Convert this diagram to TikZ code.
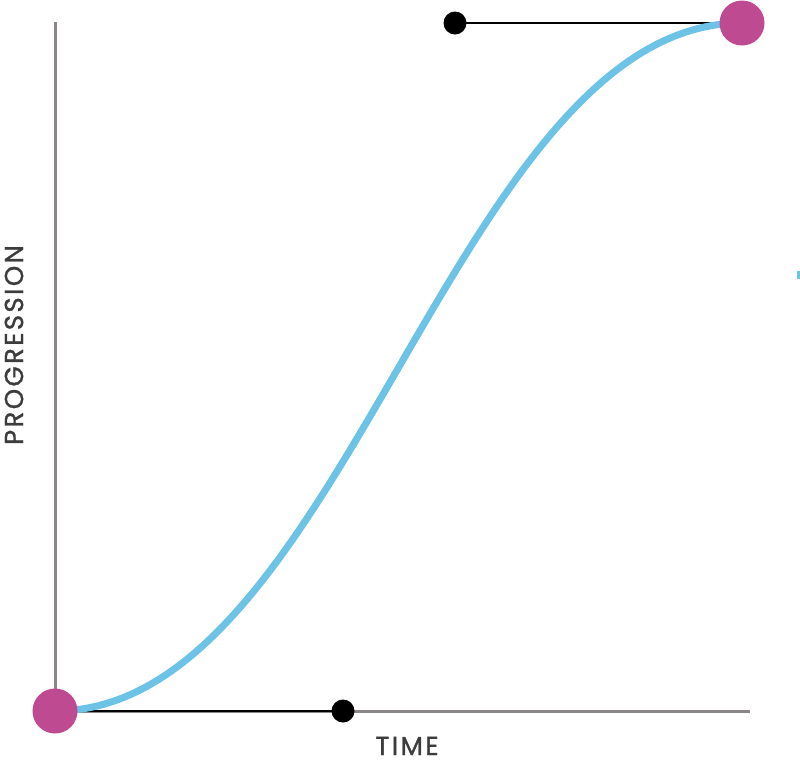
\documentclass[tikz,border=0pt]{standalone}
\usepackage{fontspec}
\setmainfont{Poppins}
\newfontfamily\labelfont[LetterSpace=9,FakeBold=1.2]{Poppins}
\definecolor{axisgray}{HTML}{8A8686}
\definecolor{curveblue}{HTML}{6CC3E6}
\definecolor{dotmag}{HTML}{BE4A92}
\definecolor{labelgray}{HTML}{3C3C3C}
\tikzset{
  axisline/.style={draw=axisgray, line width=3pt},
  handleline/.style={draw=black, line width=2pt},
  curveline/.style={draw=curveblue, line width=7pt},
  anchorpt/.style={circle, fill=dotmag, draw=none, minimum size=45pt, inner sep=0pt},
  handlept/.style={circle, fill=black, draw=none, minimum size=23pt, inner sep=0pt},
  axislabel/.style={text=labelgray, font=\labelfont\fontsize{26}{26}\selectfont, inner sep=0pt}
}
\begin{document}
\begin{tikzpicture}[x=1pt, y=-1pt]
\useasboundingbox (0,0) rectangle (800,763);
% positions
\coordinate (P0) at (55,711);
\coordinate (P1) at (742,23);
\coordinate (H0) at (343,711);
\coordinate (H1) at (455,23);
\coordinate (ytop) at (55,22);
\coordinate (xend) at (750,711);
% axes
\draw[axisline] (ytop) -- (P0) -- (xend);
% handles
\draw[handleline] (P0) -- (H0);
\draw[handleline] (H1) -- (P1);
% curve
\draw[curveline] (P0) .. controls (H0) and (H1) .. (P1);
% points
\node[anchorpt] (start) at (P0) {};
\node[anchorpt] (finish) at (P1) {};
\node[handlept] (h0) at (H0) {};
\node[handlept] (h1) at (H1) {};
% labels
\node[axislabel, rotate=90] (ylab) at (14,345) {PROGRESSION};
\node[axislabel, anchor=base] (xlab) at (407,755) {TIME};
% small blue mark at right edge
\coordinate (m0) at (798.5,271);
\coordinate (m1) at (798.5,279);
\draw[draw=curveblue, line width=2.5pt] (m0) -- (m1);
\end{tikzpicture}
\end{document}
